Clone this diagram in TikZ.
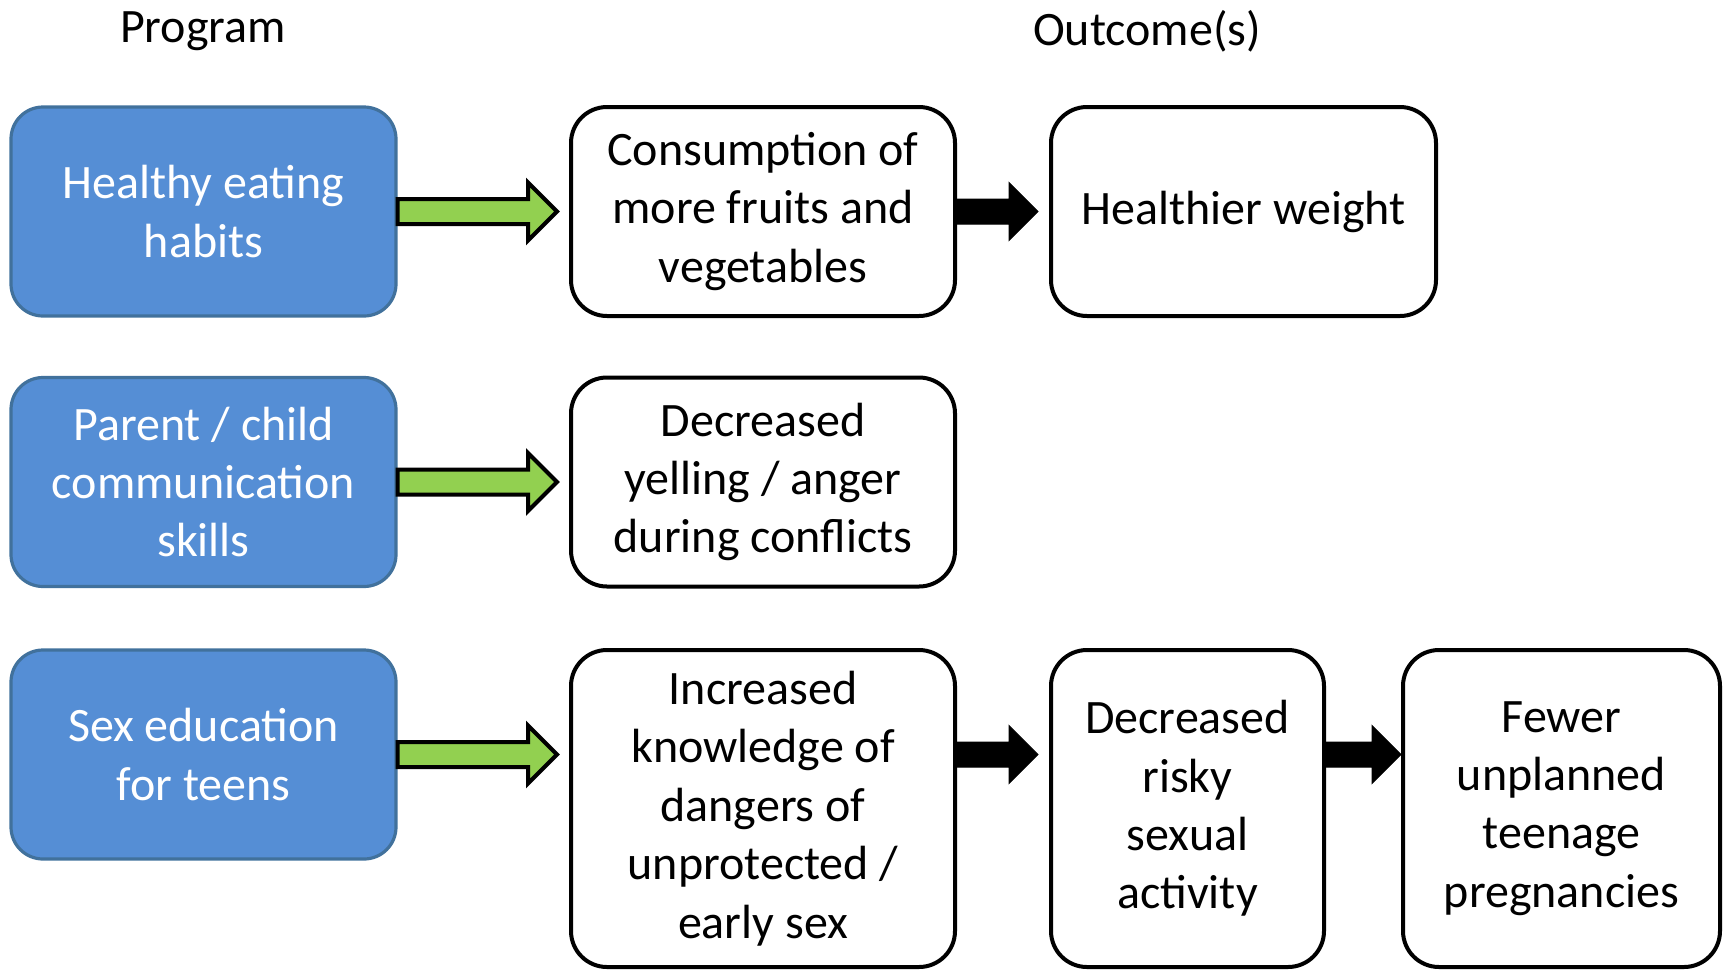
\documentclass[tikz,border=0pt]{standalone}
\usepackage{fontspec}
\setmainfont{Carlito}
\usetikzlibrary{calc}

\definecolor{progblue}{HTML}{558ED5}
\definecolor{progedge}{HTML}{41719C}
\definecolor{arrowgreen}{HTML}{92D050}

% block arrow from a point to the west side of a node, tip kept #4 short of it
\newcommand{\blockarrow}[4]{%
  \draw[#1] let \p1=(#2), \p2=(#3) in
    (\x1,\y1+6.25pt) -- (\x2-#4-14.5pt,\y1+6.25pt) -- (\x2-#4-14.5pt,\y1+14.5pt)
    -- (\x2-#4,\y1) -- (\x2-#4-14.5pt,\y1-14.5pt) -- (\x2-#4-14.5pt,\y1-6.25pt)
    -- (\x1,\y1-6.25pt) -- cycle;}

\begin{document}
\begin{tikzpicture}[x=0.5pt, y=0.5pt]
  \tikzset{
    prog_node/.style={rectangle, rounded corners=16pt, fill=progblue, draw=progedge, line width=1.6pt,
      text=white, align=center, minimum width=192.5pt, minimum height=104.5pt, inner sep=0pt},
    out_node/.style={rectangle, rounded corners=18pt, fill=white, draw=black, line width=2pt,
      align=center, minimum width=192pt, minimum height=104.5pt, inner sep=0pt},
    green_arrow/.style={fill=arrowgreen, draw=black, line width=2pt, line join=miter},
    black_arrow/.style={fill=black, draw=black, line width=0.5pt, line join=miter},
    every node/.style={font=\fontsize{24}{29.2}\selectfont}
  }

  % Bounding box
  \useasboundingbox (0,0) rectangle (1724,-970);

  % Titulos
  \node (prog_title) at (203,-31) {Program};
  \node (out_title) at (1147,-31) {Outcome(s)};

  % Programas
  \node[prog_node] (eating) at (203.5,-211.5) {Healthy eating\\habits};
  \node[prog_node] (talk) at (203.5,-482) {Parent / child\\communication\\skills};
  \node[prog_node] (sexed) at (203.5,-754.5) {Sex education\\for teens};

  % Resultados, primera fila
  \node[out_node] (fruits) at (763,-211.5) {Consumption of\\more fruits and\\vegetables};
  \node[out_node, minimum width=192.5pt] (weight) at (1243.5,-211.5) {Healthier weight};

  % Resultados, segunda fila
  \node[out_node] (yelling) at (763,-482) {Decreased\\yelling / anger\\during conflicts};

  % Resultados, tercera fila
  \node[out_node, minimum height=158.5pt] (knowledge) at (763,-808.5)
    {Increased\\knowledge of\\dangers of\\unprotected /\\early sex};
  \node[out_node, minimum width=136.5pt, minimum height=158.5pt] (risky) at (1187.5,-808.5)
    {Decreased\\risky\\sexual\\activity};
  \node[out_node, minimum width=158.5pt, minimum height=158.5pt] (pregnancy) at (1561.5,-808.5)
    {Fewer\\unplanned\\teenage\\pregnancies};

  % Flechas verdes
  \blockarrow{green_arrow}{eating.east}{fruits.west}{6pt}
  \blockarrow{green_arrow}{talk.east}{yelling.west}{6pt}
  \blockarrow{green_arrow}{sexed.east}{knowledge.west}{6pt}

  % Flechas negras
  \blockarrow{black_arrow}{fruits.east}{weight.west}{5.5pt}
  \blockarrow{black_arrow}{knowledge.east |- sexed.east}{risky.west}{5.5pt}
  \blockarrow{black_arrow}{risky.east |- sexed.east}{pregnancy.west}{0pt}
\end{tikzpicture}
\end{document}
